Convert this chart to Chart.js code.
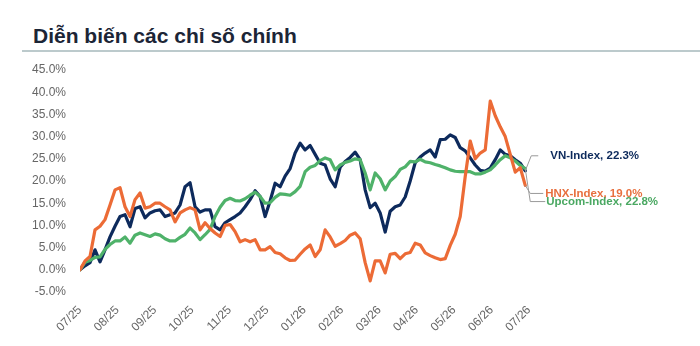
<!DOCTYPE html>
<html>
<head>
<meta charset="utf-8">
<script src="https://cdn.jsdelivr.net/npm/chart.js@4.4.1/dist/chart.umd.min.js"></script>
<style>
  html, body { margin: 0; padding: 0; background: #fff; }
  #wrap { position: relative; width: 700px; height: 346px; overflow: hidden; }
  #title {
    position: absolute; left: 33px; top: 25px; white-space: nowrap;
    font: bold 21px/21px "Liberation Sans", Arial, sans-serif; color: #1c2536;
  }
  #rule { position: absolute; left: 22px; top: 50px; width: 678px; height: 2px; background: #bccacc; }
  canvas { position: absolute; left: 0; top: 0; }
</style>
</head>
<body>
<div id="wrap">
  <div id="title">Diễn biến các chỉ số chính</div>
  <div id="rule"></div>
  <canvas id="chart" width="700" height="346"></canvas>
</div>
<script>
// ── Data (cumulative change, %, sampled roughly every 2-3 sessions) ───────────

const monthLabels = ['07/25', '08/25', '09/25', '10/25', '11/25', '12/25', '01/26',
  '02/26', '03/26', '04/26', '05/26', '06/26', '07/26'];

const vnIndex = [
  0, 0.9, 1.6, 4.5, 1.8, 4.5, 7.4, 9.8, 12.0, 12.4,
  9.7, 13.8, 14.2, 11.7, 12.8, 13.3, 13.5, 12.0, 12.4, 12.8,
  14.6, 18.7, 19.6, 14.2, 13.0, 13.5, 13.5, 9.7, 9.0, 10.6,
  11.3, 12.0, 12.8, 14.2, 15.8, 17.8, 16.5, 12.0, 15.5, 19.5,
  18.7, 21.1, 22.8, 26.3, 28.5, 27.0, 28.0, 26.0, 24.0, 23.6,
  20.5, 18.7, 23.1, 24.4, 25.3, 26.5, 24.8, 18.0, 14.0, 15.0,
  12.8, 8.5, 13.2, 14.2, 14.6, 16.4, 20.0, 24.1, 25.4, 26.3,
  27.0, 25.4, 29.3, 29.4, 30.4, 29.8, 27.5, 26.8, 25.2, 23.6,
  22.4, 22.2, 22.9, 24.8, 27.0, 26.0, 25.7, 24.8, 24.0, 22.3
];

const hnxIndex = [
  0, 2.0, 3.0, 9.0, 9.8, 11.3, 14.6, 18.0, 18.5, 14.2,
  12.0, 15.8, 17.3, 13.9, 14.2, 15.0, 15.0, 14.2, 13.5, 10.8,
  12.8, 13.5, 14.0, 13.5, 9.0, 10.6, 9.3, 8.3, 7.5, 10.0,
  10.2, 8.6, 6.3, 6.8, 6.3, 6.8, 4.5, 4.5, 5.2, 3.9,
  3.6, 2.7, 2.1, 2.2, 3.5, 4.7, 5.6, 3.0, 4.5, 9.0,
  7.4, 5.3, 5.9, 6.6, 7.8, 8.3, 7.0, 1.6, -2.5, 2.0,
  2.0, -0.7, 3.5, 3.7, 2.5, 3.6, 3.9, 6.0, 5.6, 3.8,
  3.2, 2.7, 2.3, 2.5, 5.5, 8.0, 12.0, 21.0, 29.0, 25.0,
  26.3, 27.0, 38.0, 34.7, 32.2, 30.0, 26.0, 22.0, 23.0, 19.0
];

const upcomIndex = [
  0, 1.7, 2.1, 2.8, 2.9, 4.6, 5.7, 6.5, 6.5, 7.4,
  6.0, 7.8, 8.3, 7.9, 7.5, 8.1, 7.8, 7.0, 6.5, 6.5,
  7.3, 8.0, 9.4, 8.3, 6.8, 7.9, 9.1, 12.0, 14.1, 15.6,
  16.1, 15.6, 15.5, 16.0, 16.8, 17.5, 16.5, 15.0, 15.1, 16.3,
  17.1, 17.0, 16.8, 17.6, 18.8, 22.1, 23.1, 23.5, 24.6, 25.2,
  24.8, 22.5, 23.6, 24.2, 24.5, 25.0, 24.8, 21.8, 18.0, 21.8,
  20.5, 18.0, 20.0, 21.0, 22.6, 23.2, 24.4, 24.3, 24.9, 24.3,
  24.1, 23.7, 23.4, 23.0, 22.5, 22.2, 22.1, 22.1, 22.1, 21.6,
  21.6, 22.0, 22.5, 23.6, 24.8, 25.7, 25.2, 24.5, 23.5, 22.8
];

const seriesNames = ['VN-Index', 'HNX-Index', 'Upcom-Index'];
const finalValues = [22.3, 19.0, 22.8];

// ── Styling ───────────────────────────────────────────────────────────────────

const FONT = '"Liberation Sans", Arial, sans-serif';
const NAVY = '#0d2a5c';
const ORANGE = '#ec6b36';
const GREEN = '#4fb26a';
const LABEL_COLORS = [NAVY, '#e8703f', '#4aa862'];

// sample spacing in months (last sample sits just before the 07/26 tick)
const STEP = 11.9 / (vnIndex.length - 1);
const toPoints = arr => arr.map((v, i) => ({ x: i * STEP, y: v }));

// label offsets from each line's end point (px)
const labelOffsets = [
  { dy: -15, elbow: 6, run: 13, text: 25 },
  { dy: 8, elbow: 5, run: 18, text: 20 },
  { dy: 33, elbow: 5, run: 20, text: 21 },
];

const endLabels = {
  id: 'endLabels',
  afterDatasetsDraw(chart) {
    const { ctx } = chart;
    ctx.save();
    ctx.font = `bold 11.5px ${FONT}`;
    ctx.textBaseline = 'middle';
    ctx.textAlign = 'left';
    [0, 1, 2].forEach(i => {
      const dsIndex = chart.data.datasets.findIndex(d => d.label === seriesNames[i]);
      const pts = chart.getDatasetMeta(dsIndex).data;
      const end = pts[pts.length - 1];
      const o = labelOffsets[i];
      const ly = end.y + o.dy;
      ctx.strokeStyle = '#9a9a9a';
      ctx.lineWidth = 1;
      ctx.beginPath();
      ctx.moveTo(end.x, end.y);
      ctx.lineTo(end.x + o.elbow, ly);
      ctx.lineTo(end.x + o.run, ly);
      ctx.stroke();
      ctx.fillStyle = LABEL_COLORS[i];
      ctx.fillText(`${seriesNames[i]}, ${finalValues[i].toFixed(1)}%`, end.x + o.text, ly);
    });
    ctx.restore();
  }
};

function line(label, data, color) {
  return {
    label,
    data: toPoints(data),
    borderColor: color,
    borderWidth: 3.2,
    pointRadius: 0,
    tension: 0,
    borderJoinStyle: 'round',
    borderCapStyle: 'round',
  };
}

new Chart(document.getElementById('chart'), {
  type: 'line',
  data: {
    datasets: [
      line('HNX-Index', hnxIndex, ORANGE),
      line('Upcom-Index', upcomIndex, GREEN),
      line('VN-Index', vnIndex, NAVY),
    ]
  },
  options: {
    responsive: false,
    animation: false,
    layout: { padding: { left: 0, top: 70, right: 171, bottom: 0 } },
    plugins: { legend: { display: false }, tooltip: { enabled: false } },
    scales: {
      x: {
        type: 'linear', min: 0, max: 12,
        grid: { display: false, drawTicks: false },
        border: { display: false },
        ticks: {
          stepSize: 1, autoSkip: false, maxRotation: 45, minRotation: 45, padding: 11,
          color: '#666', font: { family: FONT, size: 12 },
          callback: v => monthLabels[v] ?? '',
        },
        afterFit: s => { s.height = 54; },
      },
      y: {
        min: -5, max: 45,
        grid: { display: false, drawTicks: false },
        border: { display: false },
        ticks: {
          stepSize: 5, padding: 14,
          color: '#666', font: { family: FONT, size: 12 },
          callback: v => v.toFixed(1) + '%',
        },
        afterFit: s => { s.width = 80; },
      },
    },
  },
  plugins: [endLabels],
});
</script>
</body>
</html>
